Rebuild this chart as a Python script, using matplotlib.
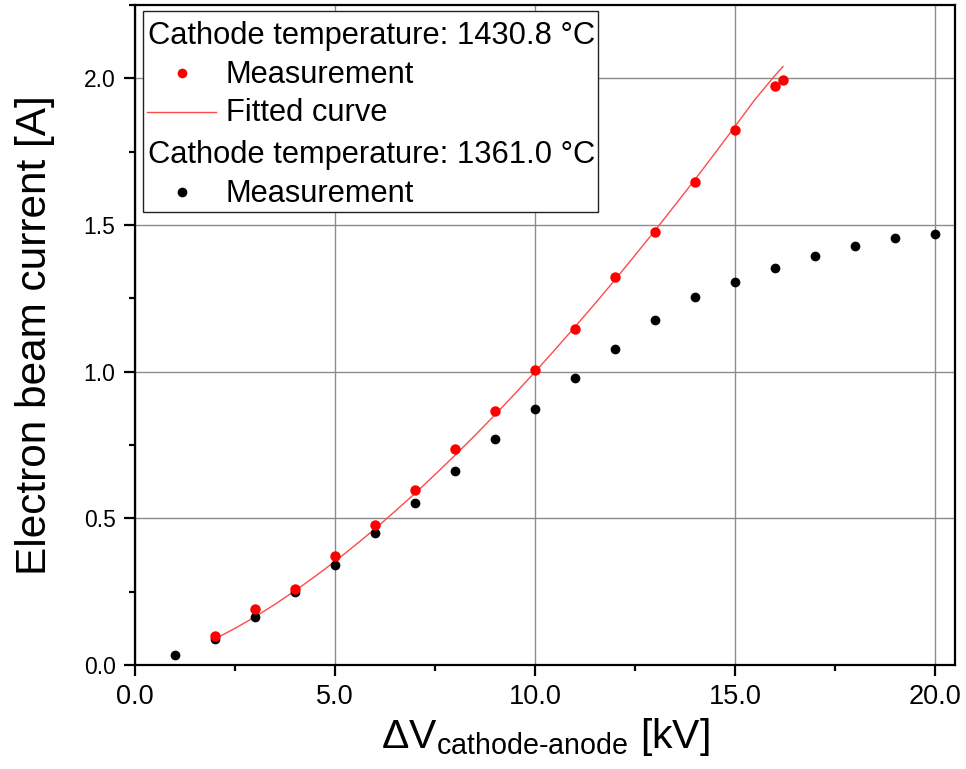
import matplotlib
matplotlib.use("Agg")
import matplotlib.pyplot as plt
from matplotlib import font_manager
from matplotlib.patches import Rectangle
from matplotlib.lines import Line2D
from matplotlib.ticker import MultipleLocator, FormatStrFormatter

# ---- data ----
v_red = [2, 3, 4, 5, 6, 7, 8, 9, 10, 11, 12, 13, 14, 15, 16, 16.2]
i_red = [0.100, 0.190, 0.260, 0.370, 0.478, 0.598, 0.737, 0.867, 1.006, 1.146,
         1.324, 1.475, 1.645, 1.824, 1.973, 1.993]
v_black = [1, 2, 3, 4, 5, 6, 7, 8, 9, 10, 11, 12, 13, 14, 15, 16, 17, 18, 19, 20]
i_black = [0.033, 0.088, 0.164, 0.249, 0.342, 0.450, 0.553, 0.661, 0.772, 0.872,
           0.980, 1.076, 1.176, 1.256, 1.305, 1.355, 1.394, 1.430, 1.455, 1.469]
v_fit = [2, 2.5, 3, 3.5, 4, 4.5, 5, 5.5, 6, 6.5, 7, 7.5, 8, 8.5, 9, 9.5, 10,
         10.5, 11, 11.5, 12, 12.5, 13, 13.5, 14, 14.5, 15, 15.5, 16, 16.2]
i_fit = [0.089, 0.125, 0.164, 0.207, 0.253, 0.302, 0.353, 0.408, 0.464, 0.524,
         0.585, 0.649, 0.715, 0.783, 0.853, 0.925, 0.999, 1.075, 1.153, 1.232,
         1.313, 1.397, 1.481, 1.568, 1.655, 1.745, 1.836, 1.928, 2.010, 2.040]
legend_labels = ["Cathode temperature: 1430.8 \u00b0C", "Measurement", "Fitted curve",
                 "Cathode temperature: 1361.0 \u00b0C", "Measurement"]

available = {f.name for f in font_manager.fontManager.ttflist}
wide = "Liberation Sans" if "Liberation Sans" in available else "DejaVu Sans"
narrow = "Liberation Sans Narrow" if "Liberation Sans Narrow" in available else wide

plt.rcParams['font.family'] = [wide, 'DejaVu Sans']
plt.rcParams['mathtext.fontset'] = 'custom'
plt.rcParams['mathtext.rm'] = narrow
plt.rcParams['mathtext.it'] = narrow
plt.rcParams['mathtext.sf'] = narrow

W, H = 966, 769
fig = plt.figure(figsize=(W / 100, H / 100), dpi=100)
L, R, T, B = 135, 955, 5, 665
ax = fig.add_axes([L / W, 1 - B / H, (R - L) / W, (B - T) / H])

ax.plot(v_fit, i_fit, '-', color='#ff4a4a', lw=1.0, zorder=3)
ax.plot(v_black, i_black, 'o', color='black', ms=7, mec='none', zorder=4)
ax.plot(v_red, i_red, 'o', color='red', ms=7.5, mec='none', zorder=5)

ax.set_xlim(0, 20.5)
ax.set_ylim(0, 2.25)
ax.xaxis.set_major_locator(MultipleLocator(5))
ax.xaxis.set_minor_locator(MultipleLocator(2.5))
ax.yaxis.set_major_locator(MultipleLocator(0.5))
ax.yaxis.set_minor_locator(MultipleLocator(0.25))
ax.xaxis.set_major_formatter(FormatStrFormatter('%.1f'))
ax.yaxis.set_major_formatter(FormatStrFormatter('%.1f'))
ax.grid(True, which='major', color='#8c8c8c', lw=1.0, zorder=0)
ax.set_axisbelow(True)
for s in ax.spines.values():
    s.set_linewidth(1.6)
ax.tick_params(which='major', direction='out', length=8, width=1.6)
ax.tick_params(which='minor', direction='out', length=4.5, width=1.6)
ax.tick_params(axis='x', which='major', pad=6)
ax.tick_params(axis='y', which='major', pad=6, labelsize=16.5)
for lab in ax.get_xticklabels():
    lab.set_fontfamily(narrow)
    lab.set_fontsize(19.5)

ax.set_ylabel("Electron beam current [A]", fontsize=30.5, labelpad=21)
ax.set_xlabel("\u0394V$_{\\mathrm{cathode\\text{-}anode}}$ [kV]", fontsize=29.5,
              family=narrow, labelpad=4)

# ---- legend (manual, in pixel-based axes fractions) ----
def fx(px):
    return (px - L) / (R - L)

def fy(py):
    return (B - py) / (B - T)

ax.add_patch(Rectangle((fx(143.3), fy(212.3)), fx(598.3) - fx(143.3), fy(10.7) - fy(212.3),
                       transform=ax.transAxes, facecolor='white', edgecolor='#222222',
                       lw=1.0, zorder=10))
fs = 22.2
rows_base = [44.3, 82.7, 120.7, 163.3, 201.7]
text_x = [148.3, 226, 226, 148.3, 226]
for lab, yb, xt in zip(legend_labels, rows_base, text_x):
    ax.text(fx(xt), fy(yb), lab, transform=ax.transAxes, fontsize=fs,
            va='baseline', ha='left', zorder=11)
ax.add_line(Line2D([fx(181.7)], [fy(73.3)], marker='o', color='red', ms=7, mec='none',
                   transform=ax.transAxes, zorder=11))
ax.add_line(Line2D([fx(146.7), fx(216)], [fy(111.7), fy(111.7)], color='#ff4a4a', lw=1.0,
                   transform=ax.transAxes, zorder=11))
ax.add_line(Line2D([fx(181.7)], [fy(192)], marker='o', color='black', ms=7, mec='none',
                   transform=ax.transAxes, zorder=11))

fig.savefig("out.png", dpi=100)
